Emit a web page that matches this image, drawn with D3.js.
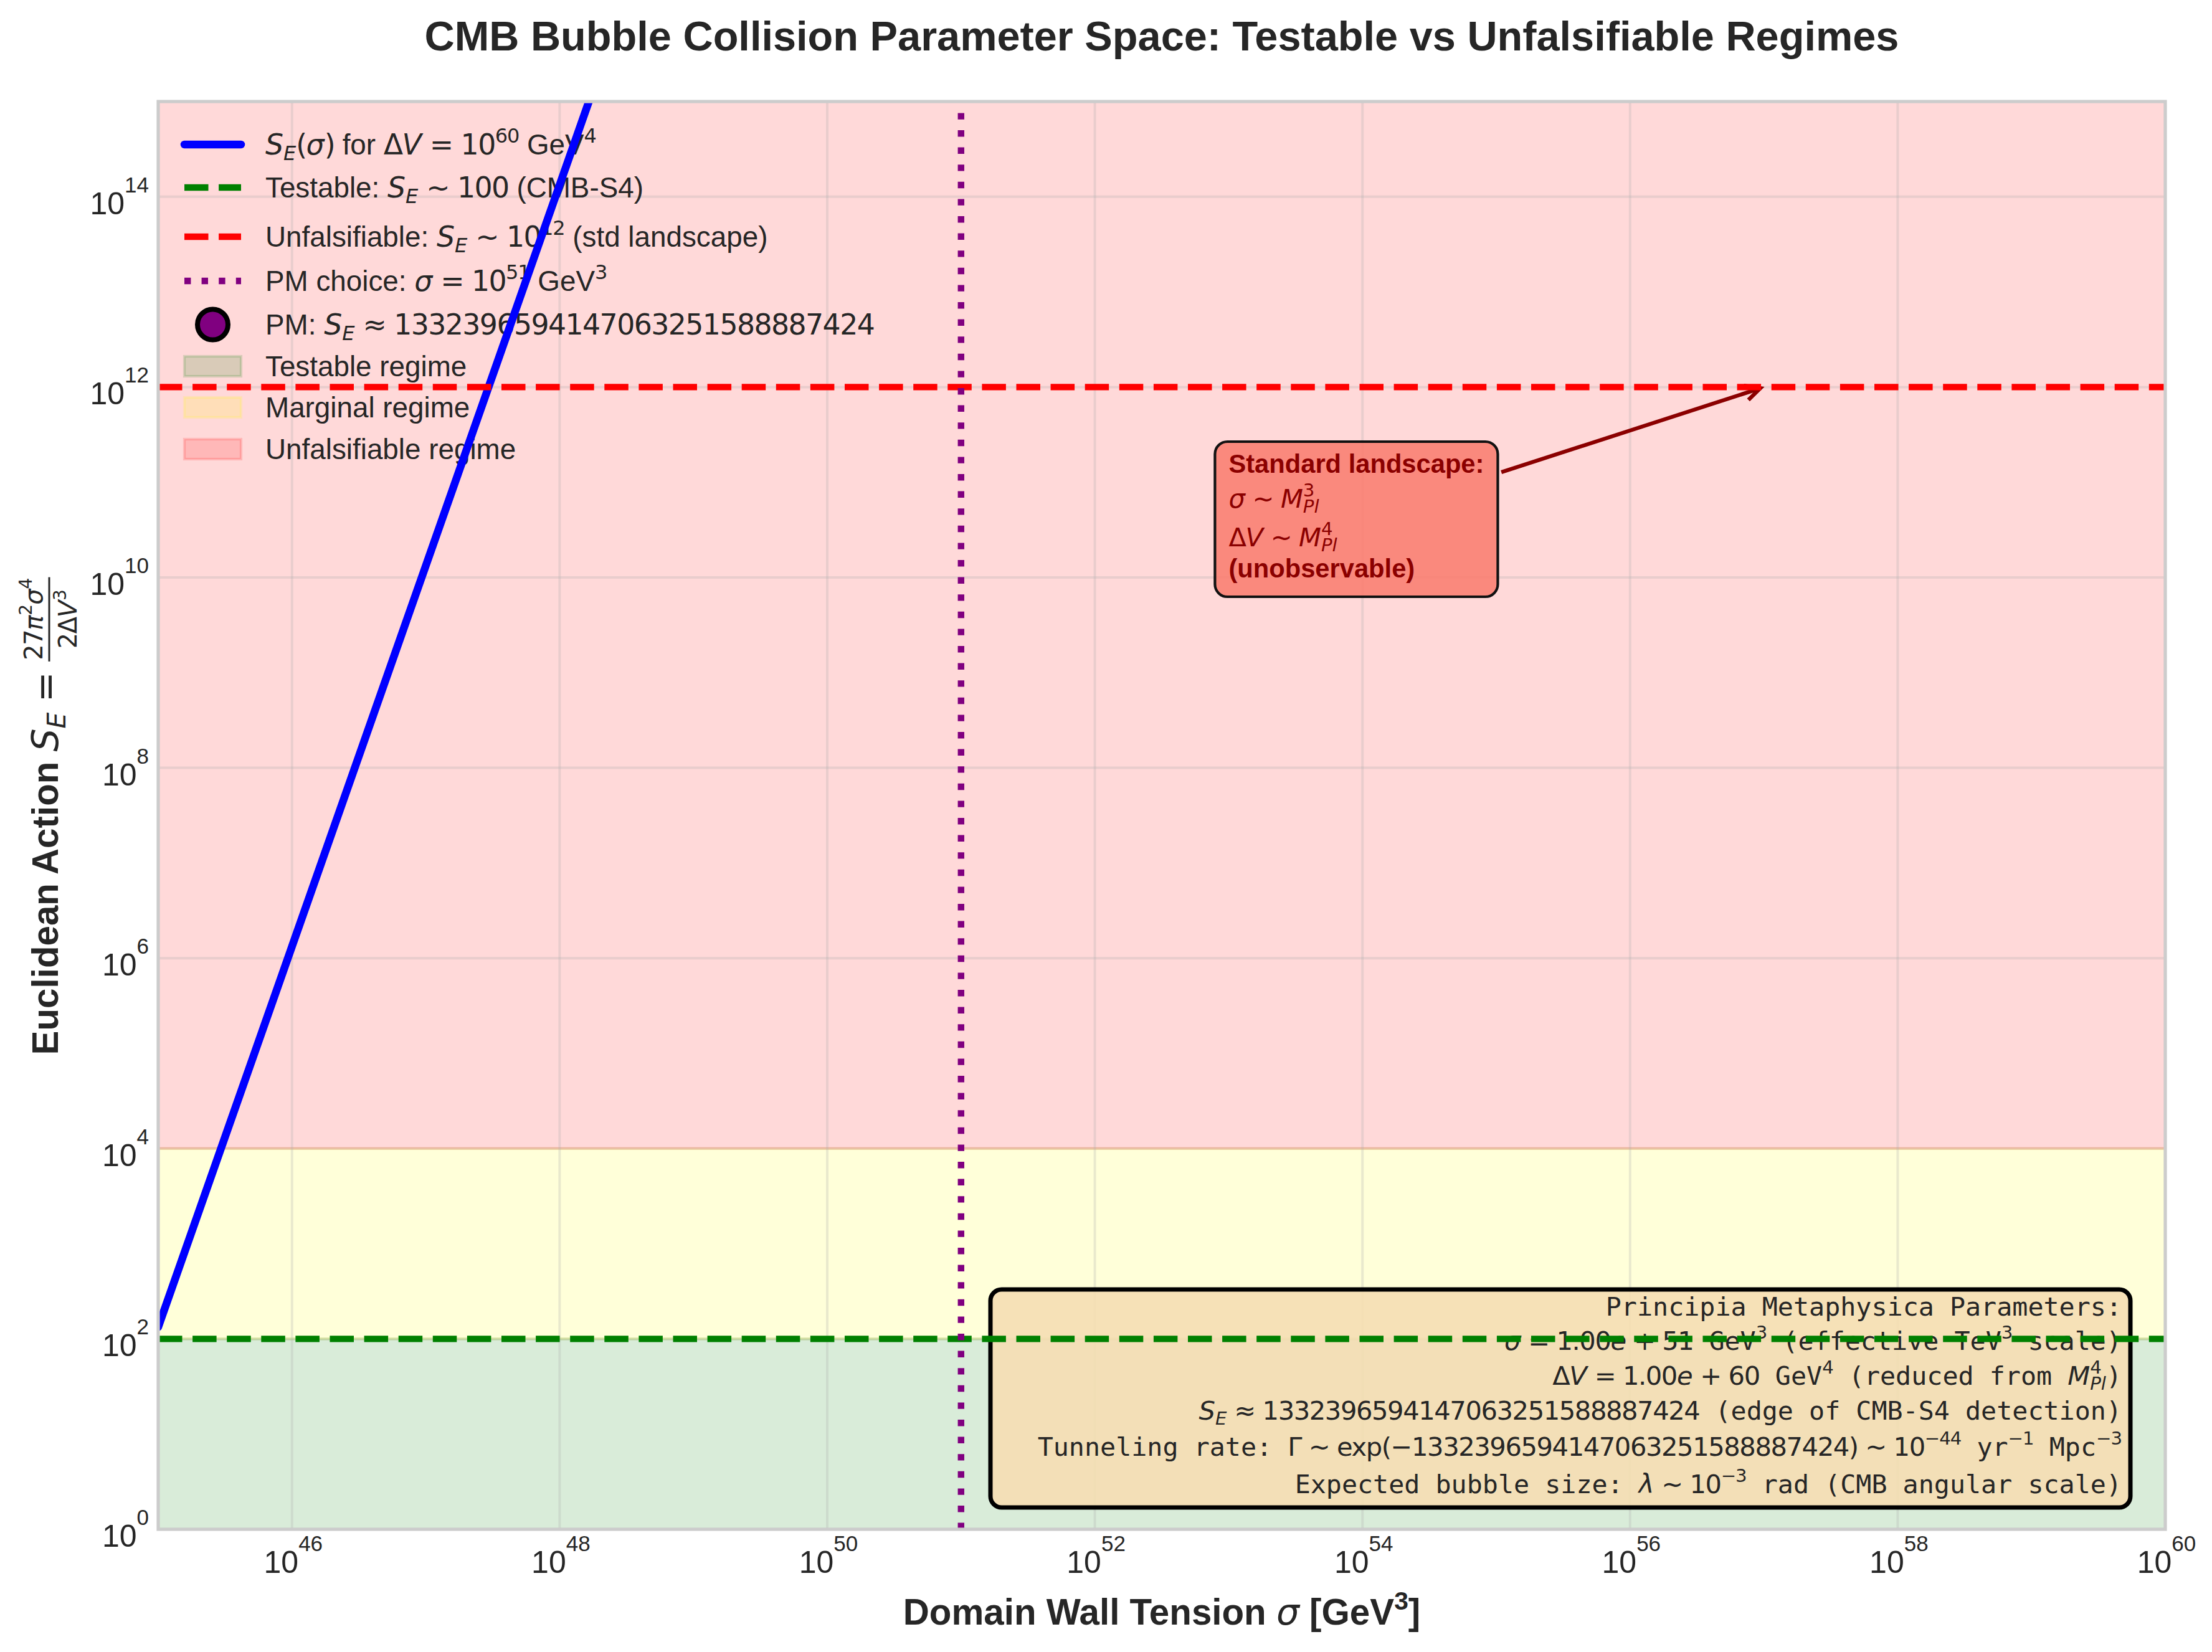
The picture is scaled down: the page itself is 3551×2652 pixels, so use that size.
<!DOCTYPE html>
<html><head><meta charset="utf-8">
<script src="https://cdn.jsdelivr.net/npm/d3@7"></script>
<style>body{margin:0;background:#fff} text{white-space:pre}</style>
</head><body>
<svg id="chart" width="3551" height="2652" xmlns="http://www.w3.org/2000/svg"></svg>
<script>
// ---------------- data ----------------
const sigmaCurve  = [1e45, 1e46, 1e47, 1e48, 3.16e48];          // domain wall tension [GeV^3]
const actionCurve = [1.332e2, 1.332e6, 1.332e10, 1.332e14, 1.332e16]; // S_E along the curve
const regimeNames = ["Testable regime", "Marginal regime", "Unfalsifiable regime"];
const regimeLower = [1, 1e2, 1e4];
const regimeUpper = [1e2, 1e4, 1e15];
const regimeColors = ["green", "yellow", "red"];
const thresholdValues = [100, 1e12];
const thresholdColors = ["green", "red"];
const pmSigma = 1e51;
const pmDeltaV = 1e60;
const pmAction = 1.3323965941470633e27;
const pmActionText = "1332396594147063251588887424";
const xTickExps = [46, 48, 50, 52, 54, 56, 58, 60];
const yTickExps = [0, 2, 4, 6, 8, 10, 12, 14];
const annotTarget = [1e57, 1e12];
const annotText = [1e53, 1e10];

// ---------------- setup ----------------
const SANS = "'Liberation Sans', Arial, sans-serif";
const MATH = "'DejaVu Sans', sans-serif";
const MONO = "'DejaVu Sans Mono', monospace";
const INK = "#262626";
const M = {left: 254, right: 3476, top: 163, bottom: 2455};
const svg = d3.select("#chart");
const x = d3.scaleLog().domain([1e45, 1e60]).range([M.left, M.right]);
const y = d3.scaleLog().domain([1, 1e15]).range([M.bottom, M.top]);

svg.append("defs").append("clipPath").attr("id", "plotclip")
  .append("rect").attr("x", M.left).attr("y", M.top)
  .attr("width", M.right - M.left).attr("height", M.bottom - M.top);

function rich(parent, xp, yp, parts, size, o = {}) {
  const t = parent.append("text").attr("x", xp).attr("y", yp)
    .attr("font-size", size).attr("font-family", o.family || SANS)
    .attr("font-weight", o.weight || "normal").attr("fill", o.fill || INK)
    .attr("text-anchor", o.anchor || "start").attr("xml:space", "preserve");
  let cur = 0;
  parts.forEach(p => {
    if (typeof p === "string") p = {t: p};
    const s = t.append("tspan").text(p.t);
    let off = 0, fs = size;
    if (p.sup) { off = -(p.raise != null ? p.raise : 0.42) * size; fs = size * 0.7; }
    if (p.sub) { off = 0.2 * size; fs = size * 0.7; }
    if (off !== cur) s.attr("dy", off - cur);
    cur = off;
    if (fs !== size) s.attr("font-size", fs);
    if (p.f === "mi") s.attr("font-family", MATH).attr("font-style", "italic").attr("font-weight", "normal");
    else if (p.f === "m") s.attr("font-family", MATH).attr("font-weight", "normal").attr("letter-spacing", (-0.035 * fs).toFixed(2));
    else if (p.f === "b") s.attr("font-weight", "bold");
    if (p.back) {
      const prev = s.node().previousSibling;
      s.attr("dx", -prev.getComputedTextLength());
    }
  });
  return t;
}

// ---------------- regime spans ----------------
const plot = svg.append("g").attr("clip-path", "url(#plotclip)");
plot.selectAll("rect.span").data(regimeNames).enter().append("rect")
  .attr("class", "span")
  .attr("x", M.left).attr("width", M.right - M.left)
  .attr("y", (d, i) => y(regimeUpper[i]))
  .attr("height", (d, i) => y(regimeLower[i]) - y(regimeUpper[i]))
  .attr("fill", (d, i) => regimeColors[i]).attr("fill-opacity", 0.15)
  .attr("stroke", (d, i) => regimeColors[i]).attr("stroke-opacity", 0.15).attr("stroke-width", 4.2);

xTickExps.forEach(e => {
  svg.append("line").attr("x1", x(Math.pow(10, e))).attr("x2", x(Math.pow(10, e)))
    .attr("y1", M.top).attr("y2", M.bottom)
    .attr("stroke", "#b0b0b0").attr("stroke-opacity", 0.28).attr("stroke-width", 4);
});
yTickExps.forEach(e => {
  svg.append("line").attr("y1", y(Math.pow(10, e))).attr("y2", y(Math.pow(10, e)))
    .attr("x1", M.left).attr("x2", M.right)
    .attr("stroke", "#b0b0b0").attr("stroke-opacity", 0.28).attr("stroke-width", 4);
});

// ---------------- legend ----------------
const LG = svg.append("g");
const rows = [232, 301, 380, 451, 521, 588, 654, 721];
const hx1 = 296, hx2 = 387, tx = 426, LS = 45.8;
const SE = [{t: "S", f: "mi"}, {t: "E", f: "mi", sub: true}];
const legendTexts = [
  [...SE, {t: "(", f: "m"}, {t: "σ", f: "mi"}, {t: ")", f: "m"}, " for ", {t: "Δ", f: "m"}, {t: "V", f: "mi"}, {t: " = 10", f: "m"}, {t: "60", f: "m", sup: true}, " GeV", {t: "4", f: "m", sup: true}],
  ["Testable: ", ...SE, {t: " ∼ 100", f: "m"}, " (CMB-S4)"],
  ["Unfalsifiable: ", ...SE, {t: " ∼ 10", f: "m"}, {t: "12", f: "m", sup: true}, " (std landscape)"],
  ["PM choice: ", {t: "σ", f: "mi"}, {t: " = 10", f: "m"}, {t: "51", f: "m", sup: true}, " GeV", {t: "3", f: "m", sup: true}],
  ["PM: ", ...SE, {t: " ≈ " + pmActionText, f: "m"}],
  [regimeNames[0]], [regimeNames[1]], [regimeNames[2]]
];
legendTexts.forEach((parts, i) => rich(LG, tx, rows[i] + 16, parts, LS));
LG.append("line").attr("x1", hx1).attr("x2", hx2).attr("y1", rows[0]).attr("y2", rows[0])
  .attr("stroke", "blue").attr("stroke-width", 12.5).attr("stroke-linecap", "round");
LG.append("line").attr("x1", hx1).attr("x2", hx2).attr("y1", rows[1]).attr("y2", rows[1])
  .attr("stroke", "green").attr("stroke-width", 10.4).attr("stroke-dasharray", "38.5,16.6");
LG.append("line").attr("x1", hx1).attr("x2", hx2).attr("y1", rows[2]).attr("y2", rows[2])
  .attr("stroke", "red").attr("stroke-width", 10.4).attr("stroke-dasharray", "38.5,16.6");
LG.append("line").attr("x1", hx1).attr("x2", hx2).attr("y1", rows[3]).attr("y2", rows[3])
  .attr("stroke", "purple").attr("stroke-width", 10.4).attr("stroke-dasharray", "10.4,17.2");
LG.append("circle").attr("cx", (hx1 + hx2) / 2).attr("cy", rows[4]).attr("r", 24.5)
  .attr("fill", "purple").attr("stroke", "black").attr("stroke-width", 8);
regimeColors.forEach((c, i) => {
  LG.append("rect").attr("x", hx1).attr("y", rows[5 + i] - 16).attr("width", hx2 - hx1).attr("height", 32)
    .attr("fill", c).attr("fill-opacity", 0.15).attr("stroke", c).attr("stroke-opacity", 0.15).attr("stroke-width", 4.2);
});

// ---------------- parameter box ----------------
const PB = svg.append("g");
const pbRight = 3406;
const pbBase = [2112, 2167, 2223, 2279, 2337, 2397];
const PS = 41.7;
const MPl4 = [{t: "M", f: "mi"}, {t: "4", f: "m", sup: true}, {t: "Pl", f: "mi", sub: true, back: true}];
const sExp = pmSigma.toExponential(2).split("e");   // ["1.00","+51"]
const vExp = pmDeltaV.toExponential(2).split("e");
const pbLines = [
  ["Principia Metaphysica Parameters:"],
  [{t: "σ", f: "mi"}, {t: " = " + sExp[0], f: "m"}, {t: "e", f: "mi"}, {t: " + " + sExp[1].slice(1), f: "m"}, " GeV", {t: "3", f: "m", sup: true}, " (effective TeV", {t: "3", f: "m", sup: true}, " scale)"],
  [{t: "Δ", f: "m"}, {t: "V", f: "mi"}, {t: " = " + vExp[0], f: "m"}, {t: "e", f: "mi"}, {t: " + " + vExp[1].slice(1), f: "m"}, " GeV", {t: "4", f: "m", sup: true}, " (reduced from ", ...MPl4, ")"],
  [...SE, {t: " ≈ " + pmActionText, f: "m"}, " (edge of CMB-S4 detection)"],
  ["Tunneling rate: ", {t: "Γ ∼ exp(−" + pmActionText + ") ∼ 10", f: "m"}, {t: "−44", f: "m", sup: true}, " yr", {t: "−1", f: "m", sup: true}, " Mpc", {t: "−3", f: "m", sup: true}],
  ["Expected bubble size: ", {t: "λ", f: "mi"}, {t: " ∼ 10", f: "m"}, {t: "−3", f: "m", sup: true}, " rad (CMB angular scale)"]
];
const pbRect = PB.append("rect");
const pbText = PB.append("g");
pbLines.forEach((parts, i) => rich(pbText, pbRight, pbBase[i], parts, PS, {family: MONO, anchor: "end"}));
{
  const bb = pbText.node().getBBox();
  const left = Math.min(1590, bb.x - 20);
  const right = Math.max(3419, bb.x + bb.width + 14);
  pbRect.attr("x", left).attr("y", 2070).attr("width", right - left).attr("height", 2420 - 2070)
    .attr("rx", 18).attr("fill", "wheat").attr("fill-opacity", 0.9)
    .attr("stroke", "#000").attr("stroke-width", 7);
}

// ---------------- annotation ----------------
const AN = svg.append("g");
const axT = x(annotText[0]), ayT = y(annotText[1]);
const anRect = AN.append("rect");
const anText = AN.append("g");
const anOff = [-168, -112, -50, 0];
const AS = 41.7;
const anLines = [
  [{t: "Standard landscape:", f: "b"}],
  [{t: "σ", f: "mi"}, {t: " ∼ ", f: "m"}, {t: "M", f: "mi"}, {t: "3", f: "m", sup: true}, {t: "Pl", f: "mi", sub: true, back: true}],
  [{t: "Δ", f: "m"}, {t: "V", f: "mi"}, {t: " ∼ ", f: "m"}, {t: "M", f: "mi"}, {t: "4", f: "m", sup: true}, {t: "Pl", f: "mi", sub: true, back: true}],
  [{t: "(unobservable)", f: "b"}]
];
anLines.forEach((parts, i) => rich(anText, axT, ayT + anOff[i], parts, AS, {fill: "#8B0000"}));
let box;
{
  const bb = anText.node().getBBox();
  box = {x: bb.x - 22, y: bb.y - 12, w: bb.width + 44, h: bb.height + 34};
  anRect.attr("x", box.x).attr("y", box.y).attr("width", box.w).attr("height", box.h)
    .attr("rx", 20).attr("fill", "salmon").attr("fill-opacity", 0.9)
    .attr("stroke", "#111").attr("stroke-width", 4.2);
}
{
  const cx = box.x + box.w / 2, cy = box.y + box.h / 2;
  const tx2 = x(annotTarget[0]), ty2 = y(annotTarget[1]);
  const dx = tx2 - cx, dy = ty2 - cy, L = Math.hypot(dx, dy);
  const ux = dx / L, uy = dy / L;
  const tEdge = (box.x + box.w - cx) / ux;
  const sx = cx + ux * (tEdge + 6), sy = cy + uy * (tEdge + 6);
  const ex = tx2 - ux * 6, ey = ty2 - uy * 6;
  AN.append("line").attr("x1", sx).attr("y1", sy).attr("x2", ex).attr("y2", ey)
    .attr("stroke", "#8B0000").attr("stroke-width", 6.3);
  const hl = 24, hw = 12;
  const bx = ex - ux * hl, by = ey - uy * hl;
  AN.append("path")
    .attr("d", `M${bx - uy * hw},${by + ux * hw} L${ex},${ey} L${bx + uy * hw},${by - ux * hw}`)
    .attr("fill", "none").attr("stroke", "#8B0000").attr("stroke-width", 6.3);
}

// ---------------- data lines ----------------
const lines = svg.append("g").attr("clip-path", "url(#plotclip)");
lines.append("path").datum(sigmaCurve.map((s, i) => [s, actionCurve[i]]))
  .attr("d", d3.line().x(d => x(d[0])).y(d => y(d[1])))
  .attr("fill", "none").attr("stroke", "blue").attr("stroke-width", 12.5).attr("stroke-linecap", "round");
thresholdValues.forEach((v, i) => {
  lines.append("line").attr("x1", M.left).attr("x2", M.right).attr("y1", y(v)).attr("y2", y(v))
    .attr("stroke", thresholdColors[i]).attr("stroke-width", 10.4).attr("stroke-dasharray", "38.5,16.6");
});
lines.append("line").attr("x1", x(pmSigma)).attr("x2", x(pmSigma)).attr("y1", M.bottom).attr("y2", M.top)
  .attr("stroke", "purple").attr("stroke-width", 10.4).attr("stroke-dasharray", "10.4,17.2");
lines.append("circle").attr("cx", x(pmSigma)).attr("cy", y(pmAction)).attr("r", 24.5)
  .attr("fill", "purple").attr("stroke", "black").attr("stroke-width", 8);

// ---------------- frame ----------------
svg.append("rect").attr("x", M.left).attr("y", M.top)
  .attr("width", M.right - M.left).attr("height", M.bottom - M.top)
  .attr("fill", "none").attr("stroke", "#cccccc").attr("stroke-width", 5.2);

// ---------------- ticks ----------------
const TS = 50;
yTickExps.forEach(e => {
  rich(svg, 239, y(Math.pow(10, e)) + 28, ["10", {t: String(e), sup: true, raise: 0.7}], TS, {anchor: "end"});
});
xTickExps.forEach(e => {
  rich(svg, x(Math.pow(10, e)) + 2, 2525, ["10", {t: String(e), sup: true, raise: 0.7}], TS, {anchor: "middle"});
});

// ---------------- axis labels & title ----------------
rich(svg, (M.left + M.right) / 2, 2608,
  ["Domain Wall Tension ", {t: "σ", f: "mi"}, " [GeV", {t: "3", sup: true}, "]"], 58.3, {weight: "bold", anchor: "middle"});

{
  const g = svg.append("g");
  const main = rich(g, 0, 0, ["Euclidean Action ", {t: "S", f: "mi"}, {t: "E", f: "mi", sub: true}, {t: " = ", f: "m"}], 58.3, {weight: "bold"});
  const w1 = main.node().getComputedTextLength();
  const FS = 40;
  const num = rich(g, 0, -25, [{t: "27", f: "m"}, {t: "π", f: "mi"}, {t: "2", f: "m", sup: true}, {t: "σ", f: "mi"}, {t: "4", f: "m", sup: true}], FS, {anchor: "middle"});
  const den = rich(g, 0, 30, [{t: "2Δ", f: "m"}, {t: "V", f: "mi"}, {t: "3", f: "m", sup: true}], FS, {anchor: "middle"});
  const fw = Math.max(num.node().getComputedTextLength(), den.node().getComputedTextLength()) + 8;
  num.attr("x", w1 + fw / 2);
  den.attr("x", w1 + fw / 2);
  g.append("line").attr("x1", w1 + 2).attr("x2", w1 + fw - 2).attr("y1", -14).attr("y2", -14)
    .attr("stroke", INK).attr("stroke-width", 3);
  const T = w1 + fw;
  g.attr("transform", `translate(93,${(M.top + M.bottom) / 2 + T / 2}) rotate(-90)`);
}

svg.append("text").attr("x", (M.left + M.right) / 2).attr("y", 81)
  .attr("text-anchor", "middle").attr("font-family", SANS).attr("font-weight", "bold")
  .attr("font-size", 66.7).attr("fill", INK)
  .text("CMB Bubble Collision Parameter Space: Testable vs Unfalsifiable Regimes");
</script>
</body></html>
